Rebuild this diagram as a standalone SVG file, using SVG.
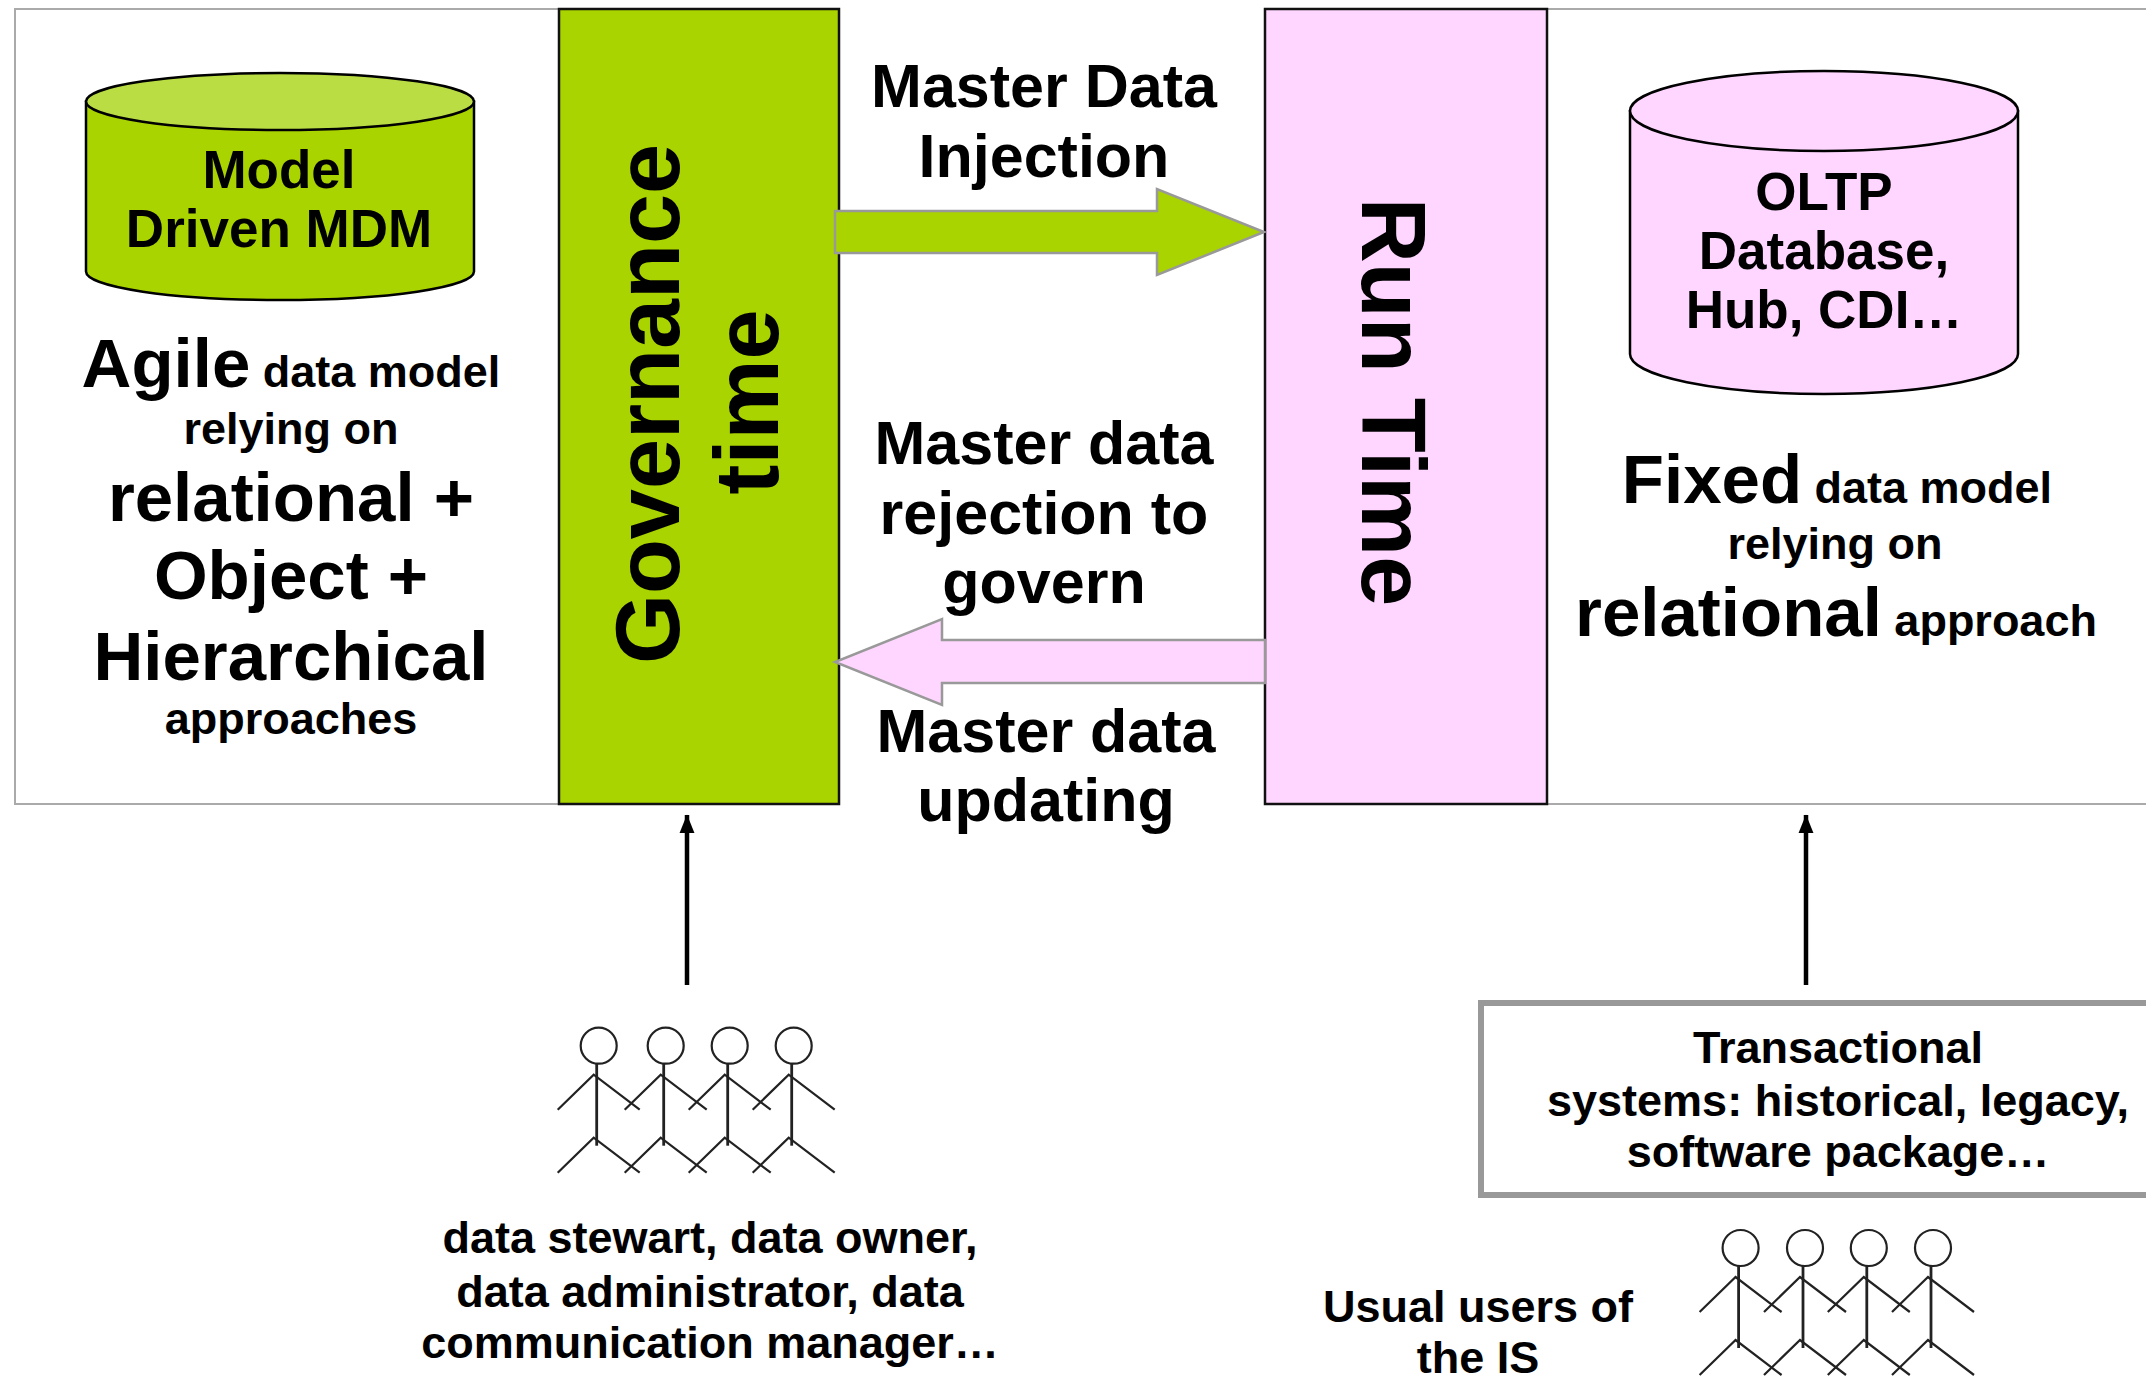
<svg xmlns="http://www.w3.org/2000/svg" width="2146" height="1377" viewBox="0 0 2146 1377">
<style>
text{font-family:"Liberation Sans",Arial,sans-serif;font-weight:700;fill:#000;text-anchor:middle}
.s45{font-size:45px}.s53{font-size:53px}.s61{font-size:61px}.s69{font-size:69px}.s90{font-size:90px}
.frame{fill:#fff;stroke:#aaa;stroke-width:2}
.green{fill:#aad400}.pink{fill:#ffd6ff}
.bar{stroke:#111;stroke-width:2.5}
.cyl{stroke:#000;stroke-width:2.5}
.fat{stroke:#999;stroke-width:2.5}
.fig{fill:none;stroke:#222;stroke-width:2.2}
.body{stroke-width:2.8}
.thin{stroke:#000;stroke-width:4.5;fill:none;marker-end:url(#ah)}
</style>
<defs>
<marker id="ah" markerUnits="userSpaceOnUse" markerWidth="20" markerHeight="30" refX="18" refY="12" orient="auto"><path d="M0 0L30 12L0 24Z" transform="scale(.62)" fill="#000" transform-origin="0 12"/></marker>
<g id="persons">
<circle class="fig" cx="0" cy="0" r="18"/>
<path class="fig body" d="M-2 18V100"/>
<path class="fig" d="M-41 64L-5 29L41 64M-41 127L-5 92L41 127"/>
</g>
</defs>
<rect width="2146" height="1377" fill="#fff"/>
<g id="frames">
<path class="frame" d="M559 9H15V804H559"/>
<path class="frame" d="M1547 9H2160V804H1547"/>
</g>
<g id="governance">
<rect class="green bar" x="559" y="9" width="280" height="795"/>
<text class="s90" transform="translate(679 404) rotate(-90)">Governance</text>
<text class="s90" transform="translate(778 402) rotate(-90)">time</text>
</g>
<g id="runtime">
<rect class="pink bar" x="1265" y="9" width="282" height="795"/>
<text class="s90" transform="translate(1362 402) rotate(90)">Run Time</text>
</g>
<g id="connectors">
<path class="green fat" d="M835 211H1157V189L1264 232L1157 275V253H835Z"/>
<path class="pink fat" d="M1265 640H942V619L835 662L942 705V683H1265Z"/>
<path class="thin" d="M687 985V815"/>
<path class="thin" d="M1806 985V815"/>
</g>
<g id="mdm-db">
<path class="green cyl" d="M86 101.500V271.500A194 28.500 0 0 0 474 271.500V101.500Z"/>
<ellipse class="cyl" cx="280" cy="101.500" rx="194" ry="28.500" fill="#bbdd44"/>
<text class="s53" x="279" y="188">Model</text>
<text class="s53" x="279" y="247">Driven MDM</text>
</g>
<g id="left-text">
<text x="291" y="387"><tspan class="s69">Agile</tspan><tspan class="s45"> data model</tspan></text>
<text class="s45" x="291" y="444">relying on</text>
<text class="s69" x="291" y="521">relational +</text>
<text class="s69" x="291" y="599">Object +</text>
<text class="s69" x="291" y="680">Hierarchical</text>
<text class="s45" x="291" y="734">approaches</text>
</g>
<g id="oltp-db">
<path class="pink cyl" d="M1630 111V354A194 40 0 0 0 2018 354V111Z"/>
<ellipse class="cyl" cx="1824" cy="111" rx="194" ry="40" fill="#ffd6ff"/>
<text class="s53" x="1824" y="210">OLTP</text>
<text class="s53" x="1824" y="269">Database,</text>
<text class="s53" x="1824" y="328">Hub, CDI…</text>
</g>
<g id="right-text">
<text x="1837" y="503"><tspan class="s69">Fixed</tspan><tspan class="s45"> data model</tspan></text>
<text class="s45" x="1835" y="559">relying on</text>
<text x="1836" y="636"><tspan class="s69">relational</tspan><tspan class="s45"> approach</tspan></text>
</g>
<g id="arrow-labels">
<text class="s61" x="1044" y="107">Master Data</text>
<text class="s61" x="1044" y="177">Injection</text>
<text class="s61" x="1044" y="464">Master data</text>
<text class="s61" x="1044" y="534">rejection to</text>
<text class="s61" x="1044" y="603">govern</text>
<text class="s61" x="1046" y="752">Master data</text>
<text class="s61" x="1046" y="821">updating</text>
</g>
<g id="stewards">
<use href="#persons" x="598.700" y="1045.700"/>
<use href="#persons" x="665.700" y="1045.700"/>
<use href="#persons" x="729.700" y="1045.700"/>
<use href="#persons" x="793.700" y="1045.700"/>
<text class="s45" x="710" y="1253">data stewart, data owner,</text>
<text class="s45" x="710" y="1307">data administrator, data</text>
<text class="s45" x="710" y="1358">communication manager…</text>
</g>
<g id="transactional">
<rect x="1481" y="1003" width="680" height="192" fill="#fff" stroke="#999" stroke-width="6"/>
<text class="s45" x="1838" y="1063">Transactional</text>
<text class="s45" x="1838" y="1116">systems: historical, legacy,</text>
<text class="s45" x="1838" y="1167">software package…</text>
</g>
<g id="users">
<use href="#persons" x="1740.600" y="1248"/>
<use href="#persons" x="1805" y="1248"/>
<use href="#persons" x="1868.800" y="1248"/>
<use href="#persons" x="1933" y="1248"/>
<text class="s45" x="1478" y="1322">Usual users of</text>
<text class="s45" x="1478" y="1373">the IS</text>
</g>
</svg>
